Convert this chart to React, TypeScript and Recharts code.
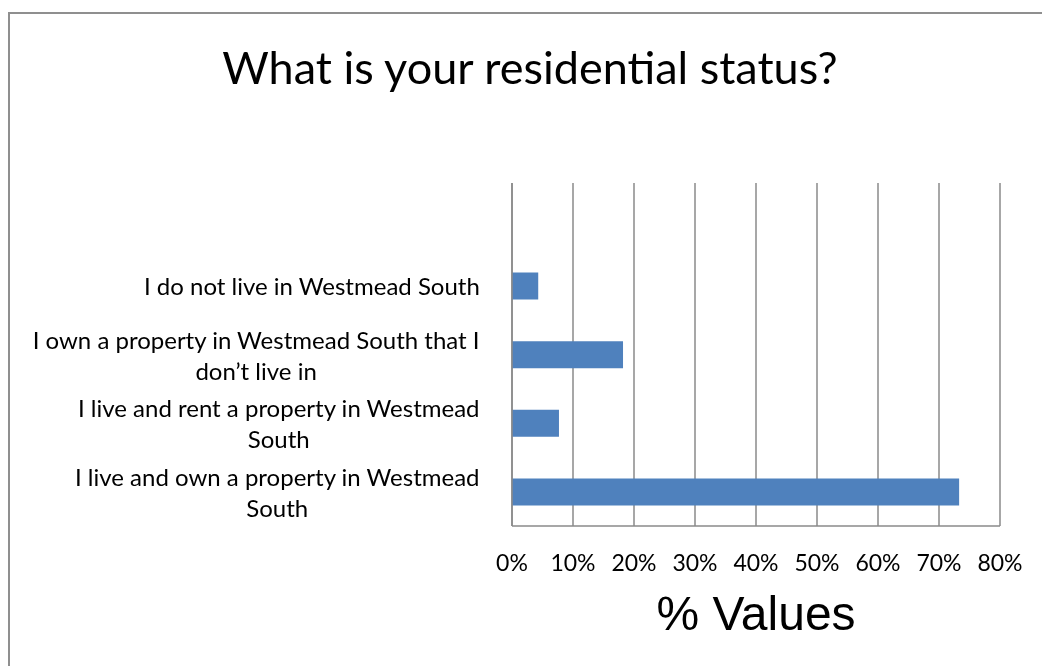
import React from "react";
import { BarChart, Bar, XAxis, YAxis, CartesianGrid } from "recharts";

const categories: string[] = [
  "",
  "I do not live in Westmead South",
  "I own a property in Westmead South that I don’t live in",
  "I live and rent a property in Westmead South",
  "I live and own a property in Westmead South",
];

const categoryLines: string[][] = [
  [],
  ["I do not live in Westmead South"],
  ["I own a property in Westmead South that I", "don’t live in"],
  ["I live and rent a property in Westmead", "South"],
  ["I live and own a property in Westmead", "South"],
];

const values: (number | null)[] = [null, 0.043, 0.182, 0.077, 0.733];

const xTicks: number[] = [0, 0.1, 0.2, 0.3, 0.4, 0.5, 0.6, 0.7, 0.8];

const title = "What is your residential status?";
const xAxisTitle = "% Values";

const data = categories.map((c, i) => ({ name: c, value: values[i] }));

const LABEL_FONT = "Lato, 'Open Sans', sans-serif";
const CAT_SIZE = 24;
const TICK_SIZE = 23;

let ctx: CanvasRenderingContext2D | null = null;
function measure(text: string): number {
  if (!ctx) {
    const c = document.createElement("canvas");
    ctx = c.getContext("2d");
  }
  if (!ctx) return text.length * CAT_SIZE * 0.5;
  ctx.font = `${CAT_SIZE}px Lato`;
  return ctx.measureText(text).width;
}

const YTick = (props: any) => {
  const { x, y, payload } = props;
  const idx = categories.indexOf(payload.value);
  const lines = idx >= 0 ? categoryLines[idx] : [];
  if (!lines.length) return null;
  const maxW = Math.max(...lines.map(measure));
  const cx = x - maxW / 2;
  const lh = 31;
  const start = y - ((lines.length - 1) * lh) / 2;
  return (
    <g>
      {lines.map((l, i) => (
        <text
          key={i}
          x={cx}
          y={start + i * lh}
          textAnchor="middle"
          dominantBaseline="central"
          fontFamily={LABEL_FONT}
          fontSize={CAT_SIZE}
          fill="#000"
        >
          {l}
        </text>
      ))}
    </g>
  );
};

const XTick = (props: any) => {
  const { x, y, payload } = props;
  return (
    <text
      x={x}
      y={y}
      textAnchor="middle"
      dominantBaseline="central"
      fontFamily={LABEL_FONT}
      fontSize={TICK_SIZE}
      fill="#000"
    >
      {`${Math.round(payload.value * 100)}%`}
    </text>
  );
};

export default function App() {
  return (
    <div style={{ position: "relative", width: 1026, height: 650, overflow: "hidden", background: "#fff" }}>
      <div
        style={{
          position: "fixed",
          left: 8,
          top: 12,
          width: 1100,
          height: 700,
          borderTop: "2px solid #8f8f8f",
          borderLeft: "2px solid #8f8f8f",
          pointerEvents: "none",
        }}
      />
      <div style={{ position: "absolute", left: 0, top: 0 }}>
        <BarChart
          width={1026}
          height={650}
          data={data}
          layout="vertical"
          margin={{ top: 175, right: 34, bottom: 72, left: 0 }}
        >
          <CartesianGrid horizontal={false} vertical={true} stroke="#8a8a8a" strokeWidth={1.5} />
          <XAxis
            type="number"
            domain={[0, 0.8]}
            ticks={xTicks}
            interval={0}
            tickSize={0}
            tickMargin={36}
            tickLine={false}
            axisLine={{ stroke: "#8a8a8a", strokeWidth: 1.5 }}
            tick={<XTick />}
            height={60}
          />
          <YAxis
            type="category"
            dataKey="name"
            width={504}
            interval={0}
            tickSize={0}
            tickMargin={32}
            tickLine={false}
            axisLine={{ stroke: "#8a8a8a", strokeWidth: 1.5 }}
            tick={<YTick />}
          />
          <Bar dataKey="value" fill="#4F81BD" barSize={27} isAnimationActive={false} />
        </BarChart>
      </div>
      <div
        style={{
          position: "absolute",
          left: 122,
          width: 800,
          top: 37,
          textAlign: "center",
          fontFamily: "Lato, 'Open Sans', sans-serif",
          fontSize: 45,
          lineHeight: "45px",
          color: "#000",
          whiteSpace: "nowrap",
        }}
      >
        {title}
      </div>
      <div
        style={{
          position: "absolute",
          left: 348,
          width: 800,
          top: 582,
          textAlign: "center",
          fontFamily: "'Liberation Sans', Arial, sans-serif",
          fontSize: 48,
          lineHeight: "48px",
          color: "#000",
          whiteSpace: "nowrap",
        }}
      >
        {xAxisTitle}
      </div>
    </div>
  );
}
